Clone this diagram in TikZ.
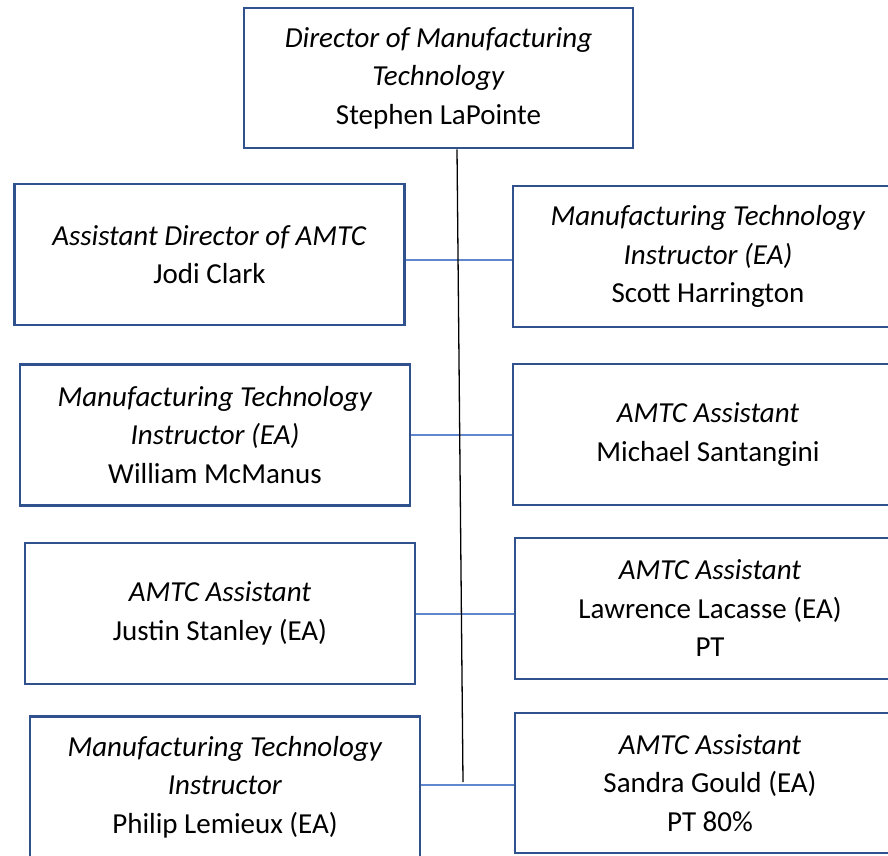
\documentclass[tikz,border=0pt]{standalone}
\usepackage{fontspec}
\setmainfont{Carlito}
\usepackage{xcolor}
\usepackage{tikz}

\definecolor{boxblue}{HTML}{2F528F}
\definecolor{linkblue}{HTML}{4472C4}

\tikzset{
	staff/.style={draw=boxblue, line width=2.6pt, rectangle, minimum width=390pt, minimum height=141pt, align=center, inner sep=0pt, font=\fontsize{29}{38.5}\selectfont},
	link/.style={draw=linkblue!85, line width=1.8pt},
	stem/.style={draw=black, line width=1.3pt}
}

\begin{document}
\begin{tikzpicture}[x=1pt, y=-1pt]
	\clip (0,0) rectangle (888,855);

	\node[staff, minimum width=389pt, minimum height=140pt] (dir) at (438.5,78) {\textit{Director of Manufacturing}\\\textit{Technology}\\Stephen LaPointe};

	\node[staff] (l1) at (209.5,254.5) {\textit{Assistant Director of AMTC}\\Jodi Clark};
	\node[staff] (r1) at (708,256.5) {\textit{Manufacturing Technology}\\\textit{Instructor (EA)}\\Scott Harrington};

	\node[staff] (l2) at (215,435) {\textit{Manufacturing Technology}\\\textit{Instructor (EA)}\\William McManus};
	\node[staff] (r2) at (708,434.5) {\textit{AMTC Assistant}\\Michael Santangini};

	\node[staff] (l3) at (220,613.5) {\textit{AMTC Assistant}\\Justin Stanley (EA)};
	\node[staff] (r3) at (710,608.5) {\textit{AMTC Assistant}\\Lawrence Lacasse (EA)\\PT};

	\node[staff] (l4) at (225,787) {\textit{Manufacturing Technology}\\\textit{Instructor}\\Philip Lemieux (EA)};
	\node[staff, minimum height=140pt] (r4) at (710,783) {\textit{AMTC Assistant}\\Sandra Gould (EA)\\PT 80\%};

	\draw[link] ([yshift=-3.5pt]l1.east |- r1.west) -- ([yshift=-3.5pt]r1.west);
	\draw[link] (l2.east) -- (l2.east -| r2.west);
	\draw[link] ([yshift=-0.5pt]l3.east) -- ([yshift=-0.5pt]l3.east -| r3.west);
	\draw[link] ([yshift=-2pt]r4.west -| l4.east) -- ([yshift=-2pt]r4.west);

	\coordinate (stemend) at (463,782);
	\draw[stem] ([xshift=18.5pt]dir.south) -- (stemend);
\end{tikzpicture}
\end{document}
